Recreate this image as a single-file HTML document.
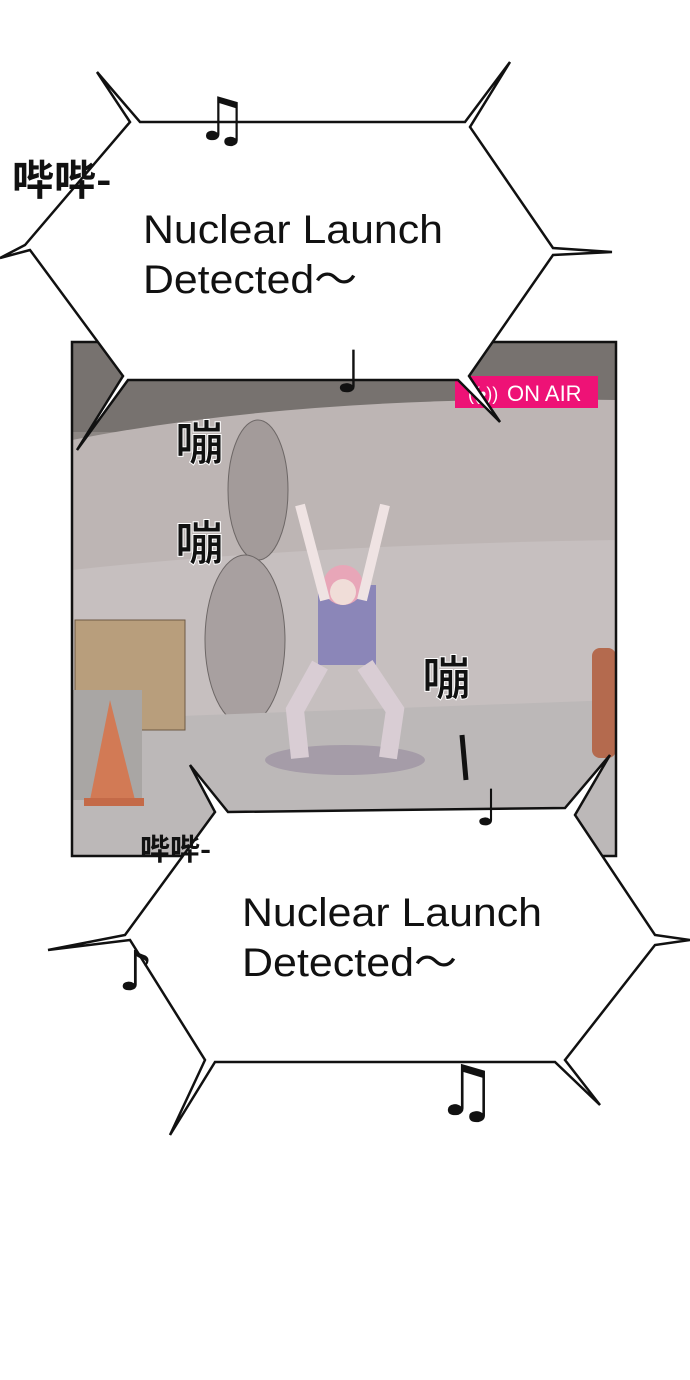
<!DOCTYPE html>
<html><head><meta charset="utf-8"><style>
html,body{margin:0;padding:0;background:#fff;}
svg{display:block}
</style></head><body>
<svg width="690" height="1380" viewBox="0 0 690 1380" xmlns="http://www.w3.org/2000/svg">
<rect width="690" height="1380" fill="#fff"/>
<defs><clipPath id="pc"><rect x="72" y="342" width="544" height="514"/></clipPath></defs>
<g clip-path="url(#pc)">
<rect x="72" y="342" width="544" height="514" fill="#8d8784"/>
<rect x="72" y="342" width="544" height="90" fill="#77726f"/>
<path d="M72 440 Q300 395 616 400 L616 560 L72 580 Z" fill="#bdb5b4"/>
<path d="M72 570 Q300 545 616 540 L616 720 L72 730 Z" fill="#c6bfbf"/>
<ellipse cx="258" cy="490" rx="30" ry="70" fill="#a39b9a" stroke="#6d6766"/>
<ellipse cx="245" cy="640" rx="40" ry="85" fill="#a8a0a0" stroke="#6d6766"/>
<path d="M72 720 L616 700 L616 856 L72 856 Z" fill="#bcb8b8"/>
<ellipse cx="345" cy="760" rx="80" ry="15" fill="#a59ca8"/>
<rect x="75" y="620" width="110" height="110" fill="#b89e7c" stroke="#6e5a44"/>
<rect x="72" y="690" width="70" height="110" fill="#a9a6a4"/>
<polygon points="110,700 90,800 135,800" fill="#d27a55"/>
<rect x="84" y="798" width="60" height="8" fill="#c46a48"/>
<rect x="592" y="648" width="24" height="110" rx="8" fill="#b46a4e"/>
<rect x="318" y="585" width="58" height="80" fill="#8b86b8"/>
<circle cx="343" cy="585" r="20" fill="#e8a6b8"/>
<circle cx="343" cy="592" r="13" fill="#f0ddd8"/>
<path d="M325 600 L300 505 M362 600 L385 505" stroke="#efe3e3" stroke-width="10"/>
<path d="M320 665 L295 710 L300 758 M365 665 L395 710 L388 758" stroke="#d9cdd4" stroke-width="18" fill="none"/>
</g>
<rect x="72" y="342" width="544" height="514" fill="none" stroke="#111" stroke-width="2.5"/>
<rect x="455" y="376" width="143" height="32" fill="#ee1276"/>
<text x="507" y="401" font-family="Liberation Sans, sans-serif" font-size="22" fill="#fff">ON AIR</text>
<text x="468" y="400" font-family="Liberation Sans, sans-serif" font-size="18" fill="#fff">((•))</text>
<polygon points="30,250 0,258 25,245 130,122 97,72 140,122 465,122 510,62 470,127 553,248 612,252 553,255 469,376 500,422 458,380 128,380 77,450 123,376" fill="#fff" stroke="#111" stroke-width="2.5"/>
<text font-family="Liberation Sans, sans-serif" font-size="40" fill="#111"><tspan x="143" y="243" textLength="300" lengthAdjust="spacingAndGlyphs">Nuclear Launch</tspan><tspan x="143" y="293" textLength="214" lengthAdjust="spacingAndGlyphs">Detected～</tspan></text>
<text x="12" y="195" font-family="'Noto Sans CJK SC', sans-serif" font-size="42" fill="#111" font-weight="bold">哔哔-</text>
<text x="195" y="140" font-size="60" fill="#111" font-family="DejaVu Sans, sans-serif">♫</text>
<text x="335" y="392" font-size="58" fill="#111" font-family="DejaVu Sans, sans-serif">♩</text>
<polygon points="130,940 48,950 125,935 215,812 190,765 228,812 565,808 610,755 575,815 655,935 690,940 655,945 565,1060 600,1105 555,1062 215,1062 170,1135 205,1060" fill="#fff" stroke="#111" stroke-width="2.5"/>
<text font-family="Liberation Sans, sans-serif" font-size="40" fill="#111"><tspan x="242" y="926" textLength="300" lengthAdjust="spacingAndGlyphs">Nuclear Launch</tspan><tspan x="242" y="976" textLength="215" lengthAdjust="spacingAndGlyphs">Detected～</tspan></text>
<text x="140" y="860" font-family="'Noto Sans CJK SC', sans-serif" font-size="30" fill="#111" font-weight="bold">哔哔-</text>
<text x="118" y="990" font-size="55" fill="#111" font-family="DejaVu Sans, sans-serif">♪</text>
<text x="435" y="1115" font-size="70" fill="#111" font-family="DejaVu Sans, sans-serif">♫</text>
<g font-family="'Noto Sans CJK SC', sans-serif" font-size="48" fill="#111" stroke="#fff" stroke-width="1" font-weight="bold">
<text x="175" y="460">嘣</text>
<text x="175" y="560">嘣</text>
<text x="422" y="695">嘣</text>
</g>
<path d="M462 735 L466 780" stroke="#111" stroke-width="5"/>
<text x="475" y="825" font-size="50" fill="#111" font-family="DejaVu Sans, sans-serif">♩</text>
</svg>
</body></html>
